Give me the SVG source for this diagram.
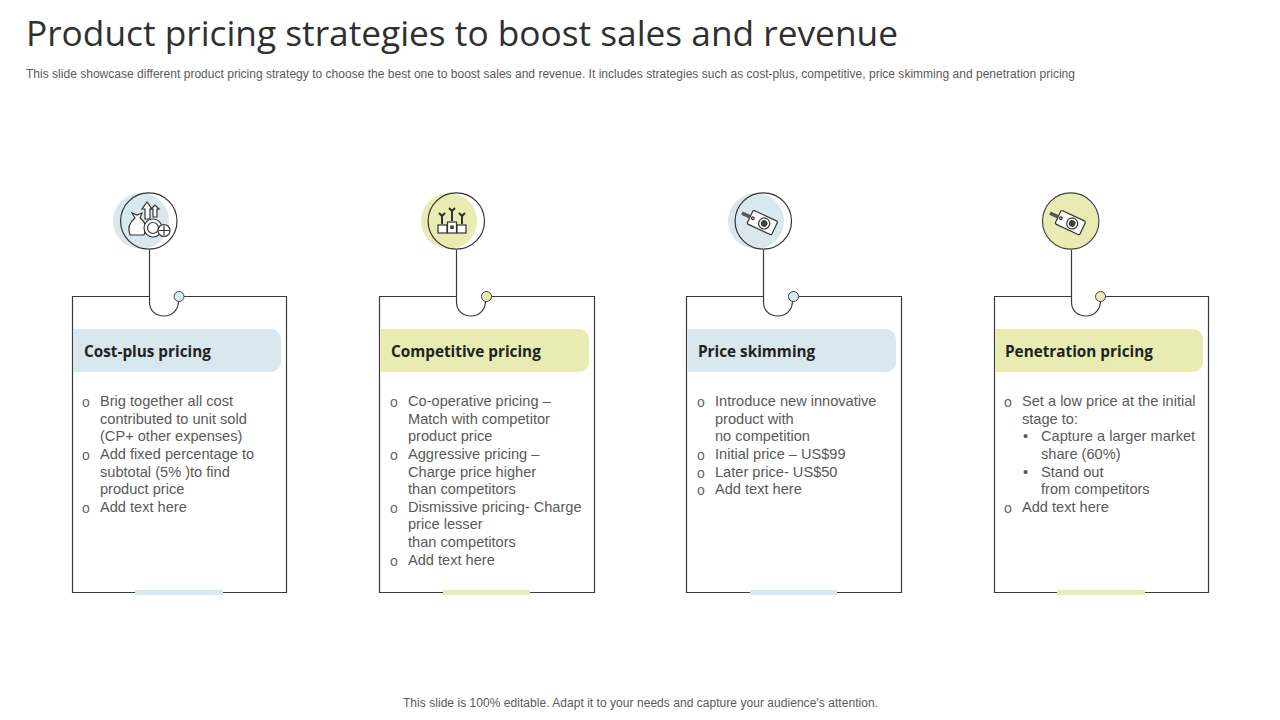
<svg xmlns="http://www.w3.org/2000/svg" width="1280" height="720" viewBox="0 0 1280 720">
<style>
text{font-family:"Liberation Sans",Arial,sans-serif;fill:#595959}
.title{font-family:"Open Sans","Noto Sans",sans-serif;font-weight:400;font-size:35.3px;fill:#303030}
.sub{font-size:12px}
.foot{font-size:12px}
.head{font-family:"Open Sans","Noto Sans",sans-serif;font-weight:700;font-size:15.3px;fill:#222}
.b{font-size:14.6px}
.o{font-size:14px;fill:#666}
.card,.line{fill:none;stroke:#3a3a3a;stroke-width:1.200}
.ring{fill:none;stroke:#333;stroke-width:1.200}
.ic{fill:#fff;stroke:#333;stroke-width:1.200}
.icn{fill:none;stroke:#333;stroke-width:1.200}
.icd{fill:#444;stroke:#333;stroke-width:1}
.blue{fill:#d9e7ee}.green{fill:#e9ebb3}
</style>
<defs>
<g id="tag"><g transform="rotate(25)"><rect x="-12" y="-7.500" width="27" height="15" rx="1.500" class="ic"/><circle cx="3.500" cy="0" r="5.500" class="ic"/><circle cx="3.500" cy="0" r="2.800" class="icd"/><circle cx="-9" cy="0" r="1.300" class="ic"/><path d="M-12 0H-21" stroke="#555" stroke-width="3.500" fill="none"/></g></g>
<g id="podium"><rect x="-14" y="4" width="9" height="8" class="ic"/><rect x="-4.500" y="1" width="9" height="11" class="ic"/><rect x="5" y="4" width="9" height="8" class="ic"/><rect x="-1.200" y="5" width="2.400" height="2.400" class="icd"/><path d="M-13-8l3 3 3-3M-10-5V3M-3-13l3 3 3-3M0-10V0M7-8l3 3 3-3M10-5V3" fill="none" stroke="#333" stroke-width="2"/></g>
<g id="money"><path d="M-20 13c-3-8 0-13 5-17l-3-5 5 2 5-2-2 5c4 3 6 7 6 11l-2 6z" class="ic"/><path d="M-5-3v-10h-3l5-7 5 7h-2v10z" class="ic"/><path d="M3-5v-8h-2l4-4 4 4h-2v8z" class="ic"/><circle cx="3" cy="6" r="9" class="ic"/><circle cx="3" cy="6" r="5.500" class="ic"/><circle cx="14" cy="8.500" r="6" class="ic"/><path d="M14 3.500v10M9 8.500h10" class="icn"/></g>
</defs>
<text class="title" x="26" y="46" textLength="872">Product pricing strategies to boost sales and revenue</text>
<text class="sub" x="26" y="77.500" textLength="1049">This slide showcase different product pricing strategy to choose the best one to boost sales and revenue. It includes strategies such as cost-plus, competitive, price skimming and penetration pricing</text>
<g id="connectors">
<path class="line" d="M149.500 250V302C149.500 311 156 316 164 316C172 316 178.500 310 178.500 301"/>
<path class="line" d="M456.500 250V302C456.500 311 463 316 471 316C479 316 485.500 310 485.500 301"/>
<path class="line" d="M763.500 250V302C763.500 311 770 316 778 316C786 316 792.500 310 792.500 301"/>
<path class="line" d="M1071.500 250V302C1071.500 311 1078 316 1086 316C1094 316 1100.500 310 1100.500 301"/>
</g>
<g id="card1">
<path class="card" d="M149.500 296.500H72.500V592.500H286.500V296.500H184"/>
<rect class="blue" x="135" y="590" width="88" height="5"/>
<path class="blue" d="M73 329H271a10 10 0 0 1 10 10V362a10 10 0 0 1-10 10H73z"/>
<circle class="blue" cx="141" cy="221" r="28"/><circle class="ring" cx="148.800" cy="221" r="28.200"/>
<use href="#money" x="150" y="222"/>
<circle class="blue" cx="179" cy="296.500" r="5" stroke="#444"/>
<text class="head" x="84" y="357">Cost-plus pricing</text>
<text class="o" x="82" y="407">o</text><text class="b" x="100" y="406">Brig together all cost</text>
<text class="b" x="100" y="424">contributed to unit sold</text>
<text class="b" x="100" y="441">(CP+ other expenses)</text>
<text class="o" x="82" y="460">o</text><text class="b" x="100" y="459">Add fixed percentage to</text>
<text class="b" x="100" y="476.500">subtotal (5% )to find</text>
<text class="b" x="100" y="494">product price</text>
<text class="o" x="82" y="513">o</text><text class="b" x="100" y="512">Add text here</text>
</g>
<g id="card2">
<path class="card" d="M456.500 296.500H379.500V592.500H594.500V296.500H491"/>
<rect class="green" x="443" y="590" width="87" height="5"/>
<path class="green" d="M380 329H579a10 10 0 0 1 10 10V362a10 10 0 0 1-10 10H380z"/>
<circle class="green" cx="449" cy="221" r="28"/><circle class="ring" cx="456.300" cy="221" r="28.200"/>
<use href="#podium" x="452" y="221"/>
<circle class="green" cx="486.500" cy="296.500" r="5" stroke="#444"/>
<text class="head" x="391" y="357">Competitive pricing</text>
<text class="o" x="390" y="407">o</text><text class="b" x="408" y="406">Co-operative pricing –</text>
<text class="b" x="408" y="424">Match with competitor</text>
<text class="b" x="408" y="441">product price</text>
<text class="o" x="390" y="460">o</text><text class="b" x="408" y="459">Aggressive pricing –</text>
<text class="b" x="408" y="477">Charge price higher</text>
<text class="b" x="408" y="494">than competitors</text>
<text class="o" x="390" y="513">o</text><text class="b" x="408" y="512">Dismissive pricing- Charge</text>
<text class="b" x="408" y="529">price lesser</text>
<text class="b" x="408" y="547">than competitors</text>
<text class="o" x="390" y="566">o</text><text class="b" x="408" y="565">Add text here</text>
</g>
<g id="card3">
<path class="card" d="M763.500 296.500H686.500V592.500H901.500V296.500H798"/>
<rect class="blue" x="750" y="590" width="87" height="5"/>
<path class="blue" d="M687 329H886a10 10 0 0 1 10 10V362a10 10 0 0 1-10 10H687z"/>
<circle class="blue" cx="756" cy="221" r="28"/><circle class="ring" cx="763.300" cy="221" r="28.200"/>
<use href="#tag" x="761" y="222"/>
<circle class="blue" cx="793.500" cy="296.500" r="5" stroke="#444"/>
<text class="head" x="698" y="357">Price skimming</text>
<text class="o" x="697" y="407">o</text><text class="b" x="715" y="406">Introduce new innovative</text>
<text class="b" x="715" y="424">product with</text>
<text class="b" x="715" y="441">no competition</text>
<text class="o" x="697" y="460">o</text><text class="b" x="715" y="459">Initial price – US$99</text>
<text class="o" x="697" y="478">o</text><text class="b" x="715" y="477">Later price- US$50</text>
<text class="o" x="697" y="495">o</text><text class="b" x="715" y="494">Add text here</text>
</g>
<g id="card4">
<path class="card" d="M1071.500 296.500H994.500V592.500H1208.500V296.500H1105"/>
<rect class="green" x="1057" y="590" width="88" height="5"/>
<path class="green" d="M995 329H1193a10 10 0 0 1 10 10V362a10 10 0 0 1-10 10H995z"/>
<circle class="green" cx="1070.700" cy="221" r="28.200" stroke="#444" stroke-width="1.200"/>
<use href="#tag" x="1069" y="222"/>
<circle class="green" cx="1100.500" cy="296.500" r="5" stroke="#444"/>
<text class="head" x="1005" y="357">Penetration pricing</text>
<text class="o" x="1004" y="407">o</text><text class="b" x="1022" y="406">Set a low price at the initial</text>
<text class="b" x="1022" y="424">stage to:</text>
<text class="b" x="1023" y="441">•</text><text class="b" x="1041" y="441">Capture a larger market</text>
<text class="b" x="1041" y="459">share (60%)</text>
<text class="b" x="1023" y="477">•</text><text class="b" x="1041" y="477">Stand out</text>
<text class="b" x="1041" y="494">from competitors</text>
<text class="o" x="1004" y="513">o</text><text class="b" x="1022" y="512">Add text here</text>
</g>
<text class="foot" x="403" y="707" textLength="475">This slide is 100% editable. Adapt it to your needs and capture your audience’s attention.</text>
</svg>
